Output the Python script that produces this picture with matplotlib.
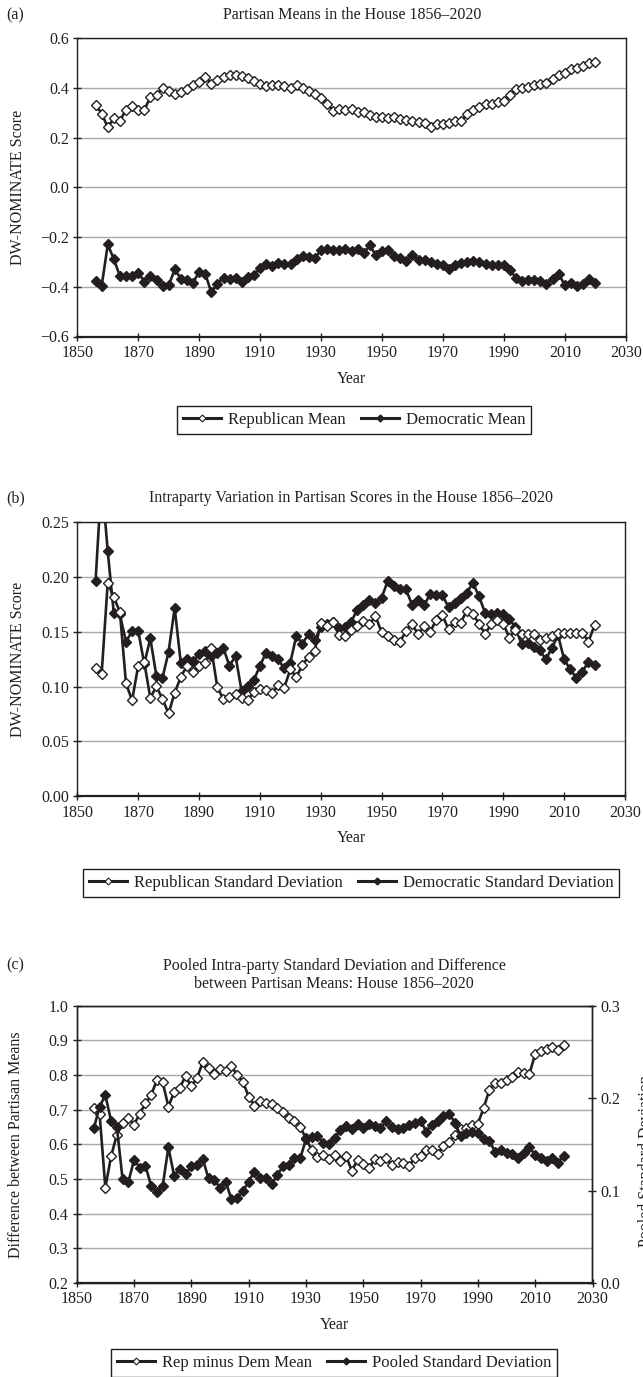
import matplotlib
matplotlib.use("Agg")
import matplotlib.pyplot as plt
from matplotlib.lines import Line2D
from matplotlib.ticker import FuncFormatter

plt.rcParams['font.family'] = ['Liberation Serif', 'DejaVu Serif']
plt.rcParams['text.color'] = '#231f20'
plt.rcParams['axes.labelcolor'] = '#231f20'
plt.rcParams['xtick.color'] = '#231f20'
plt.rcParams['ytick.color'] = '#231f20'

# Data (biennial congresses, 1856-2020)
years = list(range(1856, 2021, 2))

rep_mean = [0.332, 0.296, 0.241, 0.277, 0.267, 0.312, 0.326, 0.312, 0.311, 0.363,
            0.371, 0.398, 0.387, 0.376, 0.383, 0.394, 0.410, 0.425, 0.443, 0.417,
            0.433, 0.442, 0.450, 0.451, 0.446, 0.439, 0.427, 0.414, 0.406, 0.411,
            0.411, 0.407, 0.397, 0.410, 0.399, 0.386, 0.374, 0.360, 0.335, 0.308,
            0.315, 0.312, 0.313, 0.303, 0.303, 0.292, 0.284, 0.283, 0.280, 0.281,
            0.273, 0.270, 0.268, 0.262, 0.258, 0.242, 0.254, 0.255, 0.258, 0.266,
            0.267, 0.295, 0.310, 0.324, 0.334, 0.336, 0.341, 0.345, 0.370, 0.396,
            0.401, 0.405, 0.410, 0.414, 0.420, 0.435, 0.450, 0.461, 0.476, 0.479,
            0.488, 0.498, 0.504]

dem_mean = [-0.376, -0.397, -0.230, -0.289, -0.358, -0.358, -0.356, -0.343, -0.379, -0.355,
            -0.374, -0.395, -0.394, -0.330, -0.368, -0.371, -0.384, -0.339, -0.348, -0.423,
            -0.388, -0.363, -0.368, -0.364, -0.382, -0.360, -0.352, -0.326, -0.307, -0.316,
            -0.304, -0.309, -0.309, -0.288, -0.276, -0.281, -0.285, -0.253, -0.249, -0.254,
            -0.253, -0.248, -0.257, -0.250, -0.266, -0.234, -0.273, -0.256, -0.251, -0.275,
            -0.283, -0.296, -0.273, -0.292, -0.292, -0.300, -0.309, -0.313, -0.327, -0.313,
            -0.304, -0.299, -0.297, -0.301, -0.307, -0.311, -0.311, -0.313, -0.334, -0.363,
            -0.376, -0.374, -0.374, -0.378, -0.390, -0.367, -0.347, -0.394, -0.385, -0.398,
            -0.390, -0.367, -0.383]

rep_sd = [0.1165, 0.1117, 0.1945, 0.1815, 0.168, 0.103, 0.0874, 0.1187, 0.122, 0.0898,
          0.1001, 0.0886, 0.0755, 0.0944, 0.1086, 0.119, 0.113, 0.1187, 0.1217, 0.1353,
          0.0998, 0.0883, 0.0904, 0.0935, 0.0892, 0.0877, 0.0947, 0.0974, 0.0971, 0.0938,
          0.101, 0.099, 0.1156, 0.1086, 0.1199, 0.1271, 0.1323, 0.158, 0.155, 0.159,
          0.1474, 0.1465, 0.152, 0.155, 0.1602, 0.1566, 0.1642, 0.1496, 0.146, 0.142,
          0.1405, 0.1505, 0.1572, 0.1475, 0.155, 0.1499, 0.1611, 0.1651, 0.1521, 0.159,
          0.1581, 0.1693, 0.1664, 0.1572, 0.1481, 0.1566, 0.1611, 0.1572, 0.1445, 0.152,
          0.1475, 0.148, 0.1475, 0.1429, 0.1445, 0.146, 0.149, 0.149, 0.149, 0.149,
          0.149, 0.141, 0.156]

dem_sd = [0.196, 0.29, 0.2234, 0.1667, 0.1657, 0.1408, 0.1505, 0.1511, 0.1208, 0.1439,
          0.1096, 0.108, 0.1317, 0.1718, 0.1217, 0.1247, 0.1232, 0.1293, 0.1323, 0.1278,
          0.1308, 0.1353, 0.1187, 0.1278, 0.0959, 0.1005, 0.1059, 0.1187, 0.1308, 0.1278,
          0.1247, 0.1166, 0.1217, 0.1465, 0.139, 0.148, 0.142, 0.154, 0.157, 0.159,
          0.1536, 0.154, 0.159, 0.170, 0.1748, 0.1793, 0.1763, 0.1809, 0.196, 0.1915,
          0.1885, 0.1885, 0.1748, 0.1793, 0.1742, 0.1845, 0.1833, 0.1833, 0.1724, 0.1763,
          0.1809, 0.1854, 0.1945, 0.1824, 0.1673, 0.1664, 0.1673, 0.1657, 0.1612, 0.1542,
          0.1384, 0.14, 0.136, 0.133, 0.1248, 0.1354, 0.1466, 0.1248, 0.1157, 0.1081,
          0.1136, 0.1227, 0.1193]

rep_minus_dem = [0.706, 0.6865, 0.475, 0.566, 0.627, 0.663, 0.677, 0.656, 0.689, 0.718,
                 0.742, 0.786, 0.779, 0.709, 0.751, 0.764, 0.797, 0.767, 0.792, 0.837,
                 0.820, 0.802, 0.816, 0.812, 0.826, 0.800, 0.781, 0.738, 0.712, 0.725,
                 0.718, 0.715, 0.704, 0.692, 0.675, 0.668, 0.651, 0.617, 0.584, 0.5625,
                 0.569, 0.557, 0.569, 0.552, 0.567, 0.523, 0.555, 0.542, 0.531, 0.557,
                 0.552, 0.562, 0.539, 0.549, 0.547, 0.537, 0.562, 0.566, 0.584, 0.584,
                 0.572, 0.595, 0.608, 0.627, 0.643, 0.646, 0.655, 0.660, 0.704, 0.757,
                 0.776, 0.778, 0.785, 0.793, 0.809, 0.807, 0.803, 0.861, 0.868, 0.875,
                 0.882, 0.871, 0.887]

pooled_sd = [0.1677, 0.1908, 0.2033, 0.1752, 0.1691, 0.1125, 0.1088, 0.1331, 0.1249, 0.1266,
             0.1049, 0.0988, 0.1049, 0.1467, 0.1161, 0.123, 0.1176, 0.1266, 0.1276, 0.1339,
             0.1132, 0.1114, 0.1031, 0.1096, 0.0905, 0.0923, 0.0995, 0.1096, 0.1205, 0.114,
             0.1132, 0.1071, 0.1168, 0.1266, 0.1276, 0.1356, 0.1349, 0.1553, 0.1575, 0.159,
             0.1518, 0.1503, 0.1565, 0.1655, 0.1699, 0.1662, 0.172, 0.1673, 0.172, 0.1699,
             0.1673, 0.1756, 0.1684, 0.1662, 0.1673, 0.171, 0.1734, 0.1756, 0.1637, 0.171,
             0.1752, 0.1807, 0.1828, 0.1734, 0.159, 0.162, 0.1637, 0.162, 0.1553, 0.154,
             0.142, 0.144, 0.141, 0.1395, 0.135, 0.1403, 0.1467, 0.1385, 0.135, 0.1324,
             0.135, 0.1302, 0.1374]

x_ticks = [1850, 1870, 1890, 1910, 1930, 1950, 1970, 1990, 2010, 2030]

W, H = 643, 1377
fig = plt.figure(figsize=(W / 100, H / 100), dpi=100)

INK = '#231f20'
GRID = '#a8a8a8'
FS = 11.5


def px_axes(left, top, right, bottom):
    return fig.add_axes([left / W, 1 - bottom / H, (right - left) / W, (bottom - top) / H])


def fmt(decimals):
    # tick labels with a real minus sign, like the original
    return FuncFormatter(lambda v, _: f'{v:.{decimals}f}'.replace('-', '\u2212'))


def style(ax):
    ax.set_xlim(1850, 2030)
    ax.set_xticks(x_ticks)
    ax.grid(axis='y', color=GRID, lw=1)
    ax.set_axisbelow(True)
    for s in ax.spines.values():
        s.set_color(INK)
        s.set_linewidth(1.0)
    ax.spines['bottom'].set_linewidth(1.6)
    ax.tick_params(direction='inout', length=6, width=1, labelsize=FS, pad=3)
    ax.set_xlabel('Year', fontsize=FS, labelpad=7)


open_kw = dict(color=INK, lw=1.9, marker='D', ms=5.6, mfc='white', mec=INK, mew=1.0)
fill_kw = dict(color=INK, lw=1.9, marker='D', ms=5.6, mfc=INK, mec=INK, mew=1.0)


def legend(handles, labels, cx, cy):
    leg = fig.legend(handles, labels, loc='center', bbox_to_anchor=(cx / W, 1 - cy / H),
                     ncol=2, fontsize=12, frameon=True, fancybox=False, framealpha=1,
                     edgecolor=INK, handlelength=2.3, handletextpad=0.4, columnspacing=0.9,
                     borderpad=0.35)
    leg.get_frame().set_linewidth(1.0)


def handles():
    h1 = Line2D([], [], color=INK, lw=2.2, marker='D', ms=3.5, mfc='white', mec=INK, mew=0.8)
    h2 = Line2D([], [], color=INK, lw=2.2, marker='D', ms=3.5, mfc=INK, mec=INK)
    return [h1, h2]


# ---------------------------------------------------------------- (a)
ax_a = px_axes(77.3, 38, 625.7, 336.5)
ax_a.plot(years, rep_mean, **open_kw)
ax_a.plot(years, dem_mean, **fill_kw)
ax_a.set_ylim(-0.6, 0.6)
ax_a.set_yticks([-0.6, -0.4, -0.2, 0.0, 0.2, 0.4, 0.6])
ax_a.yaxis.set_major_formatter(fmt(1))
style(ax_a)
ax_a.set_ylabel('DW-NOMINATE Score', fontsize=FS)
ax_a.yaxis.set_label_coords(-0.093, 0.5)
fig.text(352 / W, 1 - 15 / H, 'Partisan Means in the House 1856\u20132020',
         ha='center', va='center', fontsize=FS)
fig.text(6 / W, 1 - 15 / H, '(a)', ha='left', va='center', fontsize=FS)
legend(handles(), ['Republican Mean', 'Democratic Mean'], 354, 420)

# ---------------------------------------------------------------- (b)
ax_b = px_axes(77.3, 522, 625, 796.3)
ax_b.plot(years, rep_sd, **open_kw, zorder=4)
ax_b.plot(years, dem_sd, **fill_kw, zorder=3)
ax_b.set_ylim(0, 0.25)
ax_b.set_yticks([0, 0.05, 0.10, 0.15, 0.20, 0.25])
ax_b.yaxis.set_major_formatter(fmt(2))
style(ax_b)
ax_b.set_ylabel('DW-NOMINATE Score', fontsize=FS)
ax_b.yaxis.set_label_coords(-0.093, 0.5)
fig.text(351 / W, 1 - 498 / H, 'Intraparty Variation in Partisan Scores in the House 1856\u20132020',
         ha='center', va='center', fontsize=FS)
fig.text(6 / W, 1 - 498 / H, '(b)', ha='left', va='center', fontsize=FS)
legend(handles(), ['Republican Standard Deviation', 'Democratic Standard Deviation'], 351, 883)

# ---------------------------------------------------------------- (c)
ax_c = px_axes(76.7, 1005.7, 592.5, 1283)
ax_c.plot(years, rep_minus_dem, **open_kw)
ax_c.set_ylim(0.2, 1.0)
ax_c.set_yticks([0.2, 0.3, 0.4, 0.5, 0.6, 0.7, 0.8, 0.9, 1.0])
ax_c.yaxis.set_major_formatter(fmt(1))
style(ax_c)
ax_c.set_ylabel('Difference between Partisan Means', fontsize=FS)
ax_c.yaxis.set_label_coords(-0.102, 0.5)

ax_c2 = ax_c.twinx()
ax_c2.plot(years, pooled_sd, **fill_kw)
ax_c2.set_ylim(0, 0.3)
ax_c2.set_yticks([0.0, 0.1, 0.2, 0.3])
ax_c2.yaxis.set_major_formatter(fmt(1))
ax_c2.tick_params(direction='inout', length=6, width=1, labelsize=FS, pad=3)
for s in ax_c2.spines.values():
    s.set_color(INK)
    s.set_linewidth(1.0)
# the original page crops this title at its right edge
ax_c2.set_ylabel('Pooled Standard Deviation', fontsize=FS)
ax_c2.yaxis.set_label_coords(1.088, 0.44)

fig.text(334 / W, 1 - 975 / H,
         'Pooled Intra-party Standard Deviation and Difference\nbetween Partisan Means: House 1856\u20132020',
         ha='center', va='center', fontsize=FS, linespacing=1.25)
fig.text(6 / W, 1 - 965 / H, '(c)', ha='left', va='center', fontsize=FS)
legend(handles(), ['Rep minus Dem Mean', 'Pooled Standard Deviation'], 334, 1363)

fig.savefig('out.png', dpi=100)
